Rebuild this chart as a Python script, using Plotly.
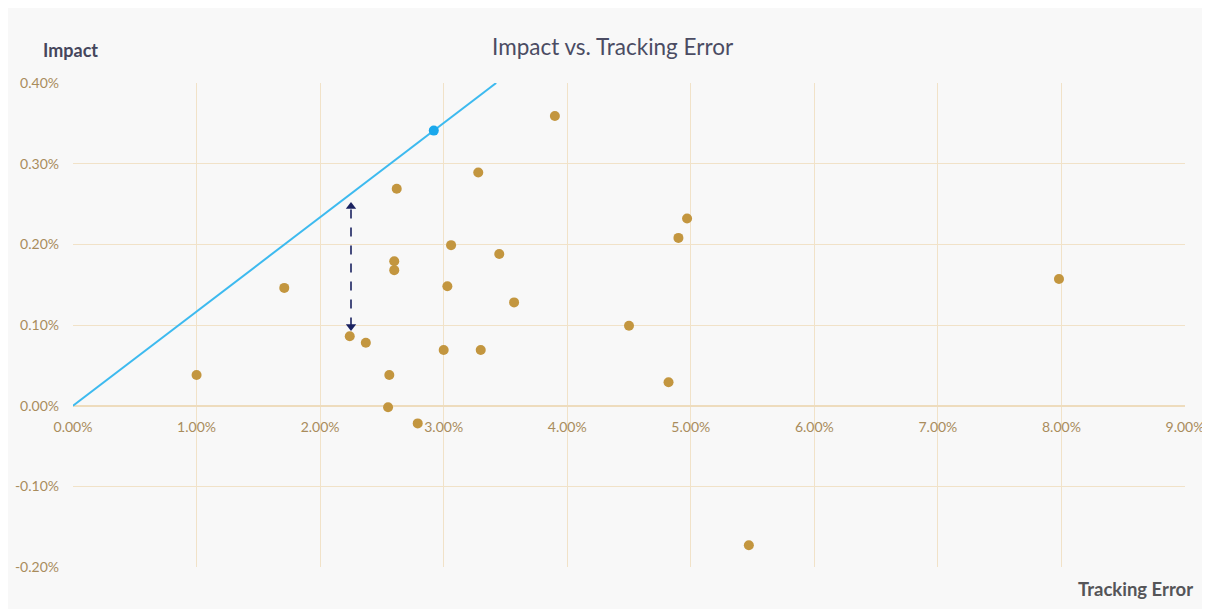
import plotly.graph_objects as go

# Data (percent units)
tracking_error = [1.00, 1.71, 2.24, 2.37, 2.56, 2.55, 2.62, 2.60, 2.60, 2.79, 3.00, 3.03,
                  3.06, 3.28, 3.30, 3.45, 3.57, 3.90, 4.50, 4.82, 4.90, 4.97, 5.47, 7.98]
impact = [0.038, 0.146, 0.086, 0.078, 0.038, -0.002, 0.269, 0.179, 0.168, -0.022, 0.069, 0.148,
          0.199, 0.289, 0.069, 0.188, 0.128, 0.359, 0.099, 0.029, 0.208, 0.232, -0.173, 0.157]

frontier_point_x = [2.92]
frontier_point_y = [0.341]

frontier_line_x = [0.0, 3.425]
frontier_line_y = [0.0, 0.400]

gap_x = [2.25, 2.25]
gap_y = [0.098, 0.247]

x_ticks = [0, 1, 2, 3, 4, 5, 6, 7, 8, 9]
x_labels = ["0.00%", "1.00%", "2.00%", "3.00%", "4.00%", "5.00%", "6.00%", "7.00%", "8.00%", "9.00%"]
y_ticks = [-0.2, -0.1, 0.0, 0.1, 0.2, 0.3, 0.4]
y_labels = ["-0.20%", "-0.10%", "0.00%", "0.10%", "0.20%", "0.30%", "0.40%"]

FONT = "Lato"
GRID = "#F1E2C8"
TICKC = "#A98C5C"
BG = "#F8F8F8"

# plot area in figure pixels
L, R, T, B = 65, 1177, 75, 559
W, H = R - L, B - T

def px(x):
    return (x - L) / W

def py(y):
    return (B - y) / H

fig = go.Figure()

fig.add_trace(go.Scatter(x=frontier_line_x, y=frontier_line_y, mode="lines",
                         line=dict(color="#3DBAEF", width=2), hoverinfo="skip"))
fig.add_trace(go.Scatter(x=tracking_error, y=impact, mode="markers",
                         marker=dict(color="#C3963F", size=10)))
fig.add_trace(go.Scatter(x=frontier_point_x, y=frontier_point_y, mode="markers",
                         marker=dict(color="#1AA8EC", size=10)))
fig.add_trace(go.Scatter(x=gap_x, y=gap_y, mode="lines",
                         line=dict(color="#1B2260", width=1.6, dash="dash")))
fig.add_trace(go.Scatter(x=gap_x, y=gap_y, mode="markers",
                         marker=dict(color="#1B2260", size=9,
                                     symbol=["triangle-down", "triangle-up"])))

fig.update_layout(
    width=1210, height=609,
    margin=dict(l=L, r=1210 - R, t=T, b=609 - B),
    paper_bgcolor=BG,
    plot_bgcolor=BG,
    showlegend=False,
    font=dict(family=FONT, color=TICKC, size=14),
    annotations=[
        dict(text="Impact vs. Tracking Error", xref="paper", yref="paper",
             x=px(605), y=py(38), xanchor="center", yanchor="middle",
             showarrow=False, font=dict(family=FONT, size=22.5, color="#4B4C63")),
        dict(text="<b>Impact</b>", xref="paper", yref="paper",
             x=px(62), y=py(42), xanchor="center", yanchor="middle",
             showarrow=False, font=dict(family=FONT, size=18, color="#45465C")),
        dict(text="<b>Tracking Error</b>", xref="paper", yref="paper",
             x=px(1127), y=py(581), xanchor="center", yanchor="middle",
             showarrow=False, font=dict(family=FONT, size=18.5, color="#555558")),
    ],
)

fig.update_xaxes(range=[0, 9], tickvals=x_ticks, ticktext=x_labels,
                 showgrid=True, gridcolor=GRID, gridwidth=1.3,
                 zeroline=False, showline=False, automargin=False,
                 anchor="free", position=(559 - 397) / H,
                 ticks="", ticklabelstandoff=12,
                 tickfont=dict(family=FONT, size=14, color=TICKC))
fig.update_yaxes(range=[-0.2, 0.4], tickvals=y_ticks, ticktext=y_labels,
                 showgrid=True, gridcolor=GRID, gridwidth=1.3,
                 zeroline=True, zerolinecolor="#EEDCBD", zerolinewidth=1.5,
                 showline=False, automargin=False, ticks="", ticklabelstandoff=13,
                 tickfont=dict(family=FONT, size=14, color=TICKC))

fig.write_html("out.html")
